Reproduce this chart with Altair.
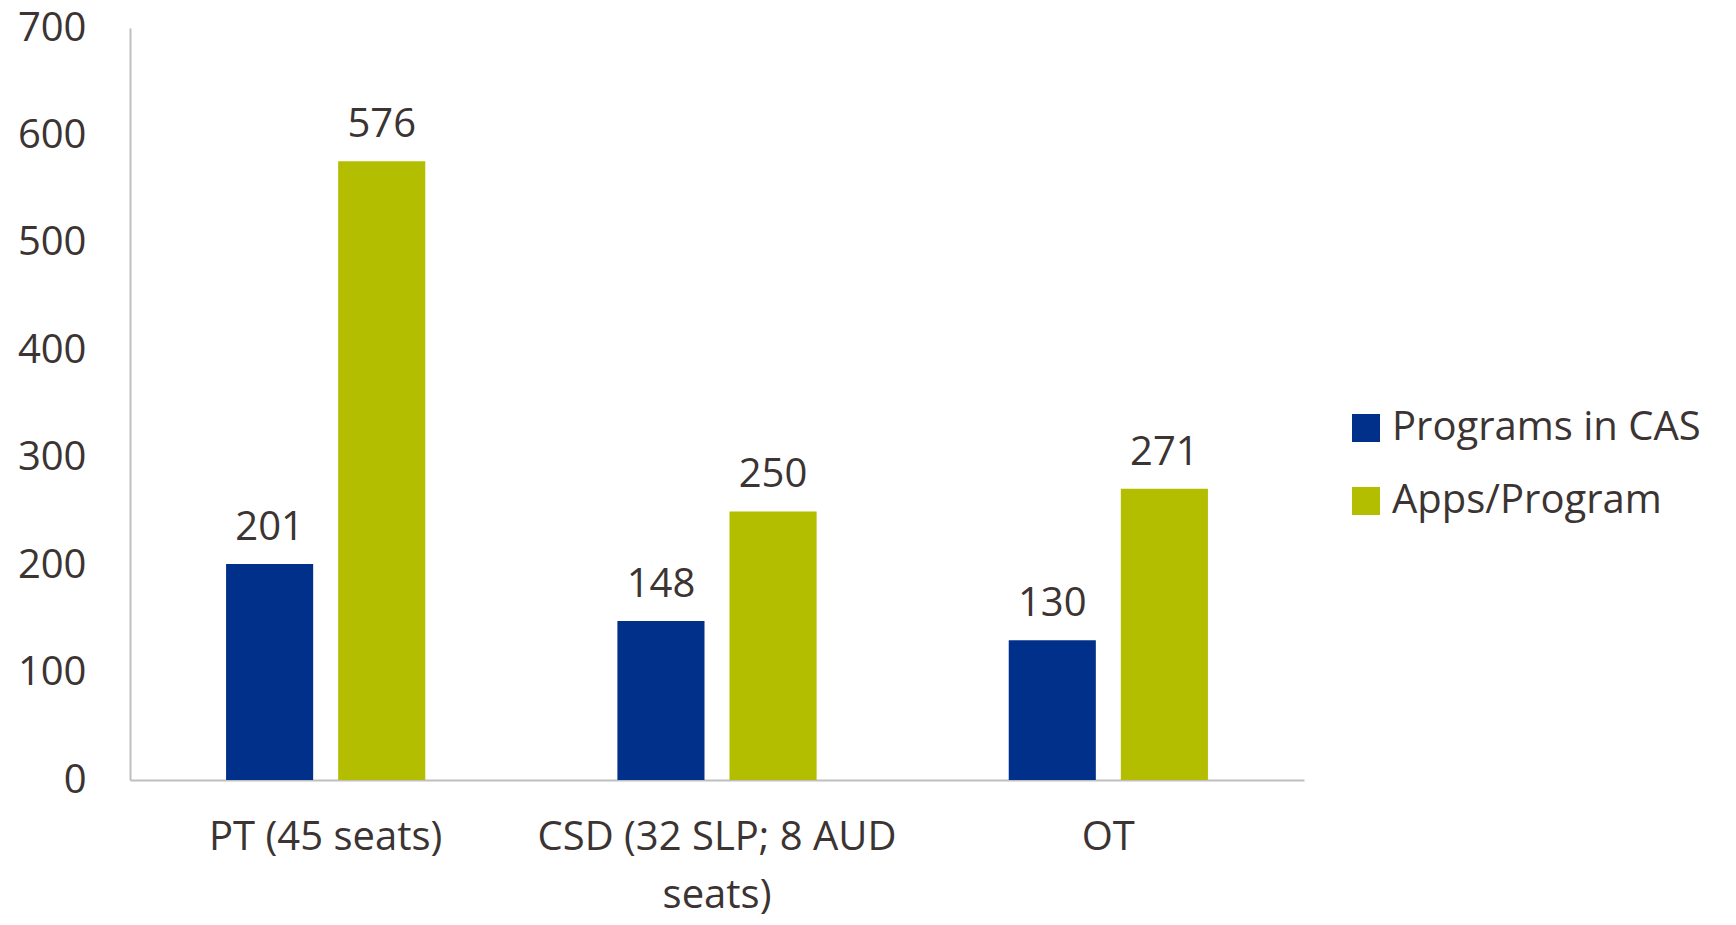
import altair as alt
import pandas as pd

categories = ["PT (45 seats)", "CSD (32 SLP; 8 AUD seats)", "OT"]
series = ["Programs in CAS", "Apps/Program"]
programs_in_cas = [201, 148, 130]
apps_per_program = [576, 250, 271]
colors = ["#00308A", "#B3BE00"]

rows = []
for i, c in enumerate(categories):
    rows.append({"category": c, "series": series[0], "value": programs_in_cas[i]})
    rows.append({"category": c, "series": series[1], "value": apps_per_program[i]})
df = pd.DataFrame(rows)

FONT = "Open Sans"
TXT = "#3B3432"
FS = 40

x = alt.X("category:N", sort=categories, title=None,
          scale=alt.Scale(paddingInner=0, paddingOuter=0),
          axis=alt.Axis(labelAngle=0, ticks=False, domainColor="#BFBFBF", domainWidth=2,
                        labelFontSize=FS, labelFont=FONT, labelColor=TXT, labelPadding=37,
                        labelLineHeight=58, labelBaseline="top", labelLimit=0,
                        labelExpr="datum.label == 'CSD (32 SLP; 8 AUD seats)' ? ['CSD (32 SLP; 8 AUD', 'seats)'] : datum.label"))
xo = alt.XOffset("series:N", sort=series,
                 scale=alt.Scale(paddingInner=0.223, paddingOuter=0.857))
y = alt.Y("value:Q", title=None,
          scale=alt.Scale(domain=[0, 700], nice=False),
          axis=alt.Axis(values=[0, 100, 200, 300, 400, 500, 600, 700], ticks=False, grid=False,
                        domainColor="#BFBFBF", domainWidth=2, labelFontSize=FS, labelFont=FONT,
                        labelColor=TXT, labelPadding=44, labelLimit=0))

bars = alt.Chart(df).mark_bar().encode(
    x=x, xOffset=xo, y=y,
    color=alt.Color("series:N", sort=series, title=None,
                    scale=alt.Scale(domain=series, range=colors),
                    legend=alt.Legend(orient="none", legendX=1216, legendY=380, padding=0,
                                      symbolType="square", symbolSize=784, symbolStrokeWidth=0,
                                      labelFontSize=FS, labelFont=FONT, labelColor=TXT,
                                      labelLimit=0, rowPadding=33, labelOffset=6,
                                      symbolOpacity=1)),
)

labels = alt.Chart(df).mark_text(fontSize=FS, font=FONT, color=TXT, dy=-24, baseline="alphabetic").encode(
    x=x, xOffset=xo, y=y, text=alt.Text("value:Q")
)

chart = (bars + labels).properties(
    width=1174, height=752,
    autosize=alt.AutoSizeParams(type="none"),
    padding={"left": 122, "top": 20, "right": 424, "bottom": 137},
    background="white",
).configure_view(stroke=None)

chart.save("out.html", embed_options={"renderer": "svg", "actions": False})
